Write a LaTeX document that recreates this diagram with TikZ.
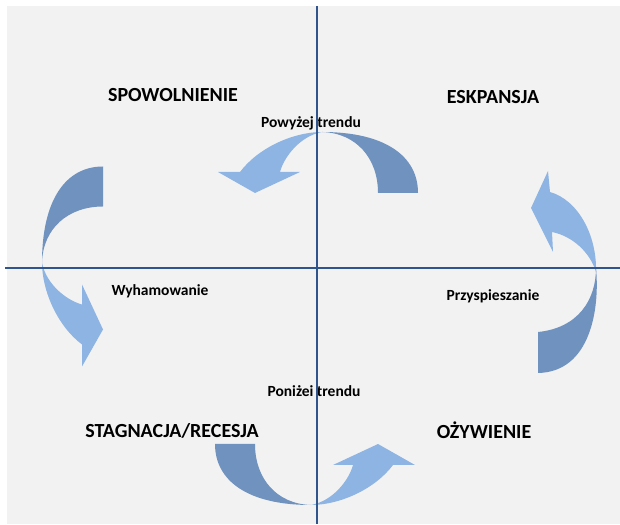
\documentclass[tikz,border=0pt]{standalone}
\usepackage{fontspec}
\setmainfont{Carlito}
\usepackage{tikz}
\usetikzlibrary{positioning}
\usepackage{xcolor}

\definecolor{bgcol}{RGB}{242,242,242}
\definecolor{axiscol}{RGB}{47,85,140}
\definecolor{backcol}{RGB}{112,146,190}
\definecolor{frontcol}{RGB}{141,180,226}

% one curved arrow, drawn round its own origin
\newcommand{\cyclearrow}{%
  \fill[backcol] (100,0) .. controls (100,37) and (67,61) .. (4,61)
    .. controls (38,60) and (60,35) .. (60,0) -- cycle;
  \fill[frontcol] (4,61) .. controls (-25,61) and (-60,45) .. (-78,21)
    -- (-100,21) -- (-63,0) -- (-18,21) -- (-38,21)
    .. controls (-34,36) and (-18,57) .. (4,61) -- cycle;
}

\begin{document}
\begin{tikzpicture}[
      x=1pt, y=1pt,
      phase/.style={font=\bfseries\fontsize{20}{24}\selectfont},
      trend/.style={font=\bfseries\fontsize{15.5}{18}\selectfont},
      axis/.style={draw=axiscol, line width=1.6pt}
    ]

    \useasboundingbox (0,0) rectangle (620,524);
    \fill[bgcol] (7,0) rectangle (620,517.5);

    % Arrows
    \begin{scope}[shift={(318,331)}]
      \cyclearrow
    \end{scope}

    \begin{scope}[shift={(315,80)}, rotate=180]
      \cyclearrow
    \end{scope}

    \begin{scope}[shift={(103,257.5)}, rotate=90]
      \cyclearrow
    \end{scope}

    % right arrow, head turned
    \fill[backcol] (596,256) .. controls (600,214) and (590,152) .. (538,151)
      -- (538,192) .. controls (578,196) and (596,224) .. (596,256) -- cycle;
    \fill[frontcol] (548,353) -- (531,316) -- (553,272) -- (552,292)
      .. controls (572,288) and (590,272) .. (596,252)
      .. controls (597,289) and (578,324) .. (550,332) -- cycle;

    % Labels
    \node[phase] (spow) at (173,429) {SPOWOLNIENIE};
    \node[phase] (eksp) at (493,427) {ESKPANSJA};
    \node[phase] (stag) at (172,93) {STAGNACJA/RECESJA};
    \node[phase] (oziw) at (484,94) {OŻYWIENIE};

    \node[trend] (above) at (311,401) {Powyżej trendu};
    \node[trend] (below) at (314,133) {Poniżei trendu};
    \node[trend] (slow) at (160,233) {Wyhamowanie};
    \node[trend] (fast) at (493,228) {Przyspieszanie};

    % Axes
    \coordinate (west) at (5,256);
    \coordinate (east) at (620,256);
    \coordinate (north) at (317,518);
    \coordinate (south) at (317,0);
    \draw[axis] (west) -- (east);
    \draw[axis] (north) -- (south);

  \end{tikzpicture}
\end{document}
